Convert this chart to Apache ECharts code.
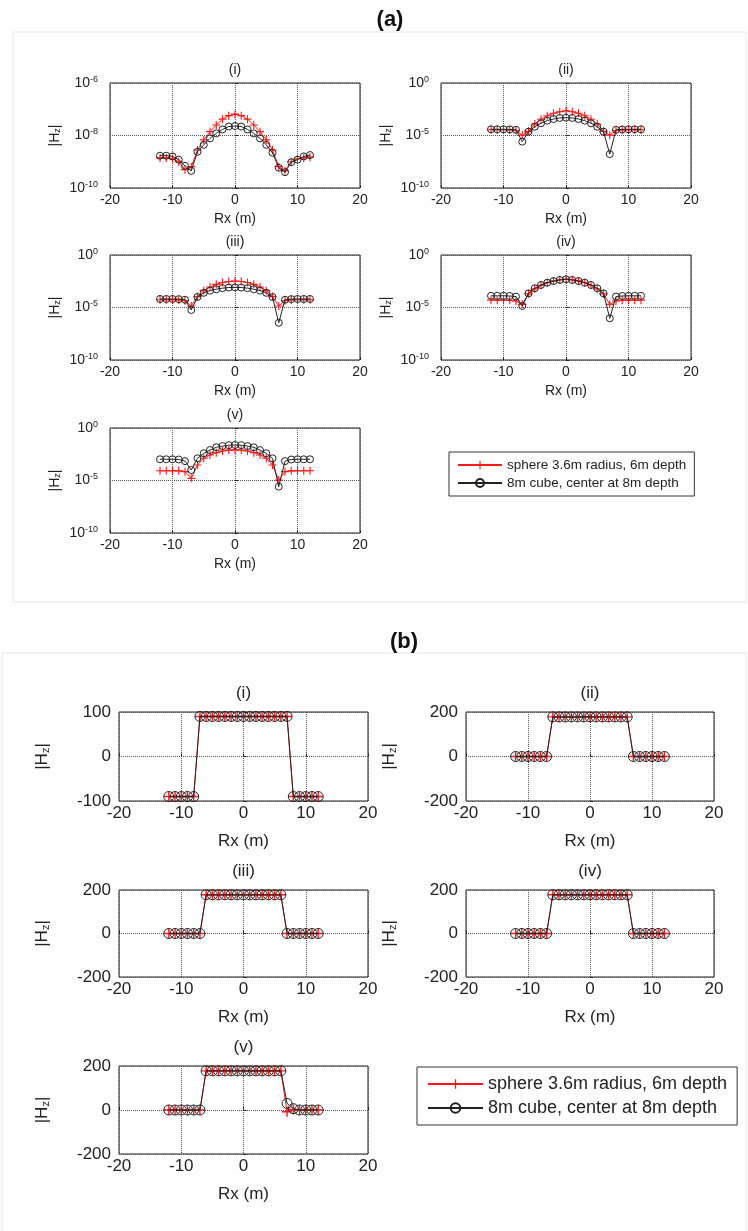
<!DOCTYPE html>
<html>
<head>
<meta charset="utf-8">
<title>Hz profiles</title>
<script src="https://cdn.jsdelivr.net/npm/echarts@6/dist/echarts.min.js"></script>
<style>
html,body{margin:0;padding:0;background:#fff;}
#chart{width:748px;height:1231px;}
</style>
</head>
<body>
<div id="chart"></div>
<script>
var rx = [-12,-11,-10,-9,-8,-7,-6,-5,-4,-3,-2,-1,0,1,2,3,4,5,6,7,8,9,10,11,12];

var sphereName = 'sphere 3.6m radius, 6m depth';
var cubeName = '8m cube, center at 8m depth';

// (a) amplitude, log axis
var sphereA1 = [1.4e-9,1.4e-9,1.3e-9,1.0e-9,5e-10,6.5e-10,2.8e-9,6.8e-9,1.4e-8,2.5e-8,4.2e-8,5.7e-8,6.5e-8,5.7e-8,4.2e-8,2.5e-8,1.4e-8,6.8e-9,2.8e-9,6.5e-10,4.5e-10,1.0e-9,1.3e-9,1.4e-9,1.5e-9];
var cubeA1 = [1.7e-9,1.7e-9,1.6e-9,1.2e-9,7e-10,4.5e-10,2.4e-9,4.4e-9,7.8e-9,1.2e-8,1.7e-8,2.2e-8,2.3e-8,2.2e-8,1.7e-8,1.2e-8,7.8e-9,4.4e-9,2.2e-9,5.9e-10,4e-10,9.6e-10,1.2e-9,1.6e-9,1.8e-9];
var sphereA2 = [3.5e-5,3.5e-5,3.5e-5,3.4e-5,3.0e-5,1.1e-5,2.5e-5,1.25e-4,3.5e-4,7.7e-4,1.3e-3,1.85e-3,2.3e-3,1.85e-3,1.3e-3,7.7e-4,3.5e-4,1.25e-4,2.5e-5,1.1e-5,3.0e-5,3.4e-5,3.5e-5,3.5e-5,3.5e-5];
var cubeA2 = [3.9e-5,3.9e-5,3.9e-5,3.8e-5,3.5e-5,2.6e-6,2.3e-5,6.9e-5,1.45e-4,2.6e-4,3.7e-4,4.7e-4,5.0e-4,4.7e-4,3.7e-4,2.6e-4,1.45e-4,6.9e-5,2.3e-5,1.7e-7,3.5e-5,3.8e-5,3.9e-5,3.9e-5,3.9e-5];
var sphereA3 = [5.5e-5,5.5e-5,5.5e-5,5.3e-5,4.5e-5,1.4e-5,1.1e-4,4e-4,9e-4,1.6e-3,2.4e-3,3e-3,3.3e-3,3e-3,2.4e-3,1.6e-3,9e-4,4e-4,1.1e-4,1.4e-5,4.5e-5,5.3e-5,5.5e-5,5.5e-5,5.5e-5];
var cubeA3 = [6.5e-5,6.5e-5,6.5e-5,6.3e-5,5.5e-5,5.8e-6,1e-4,2.5e-4,4e-4,5.5e-4,7e-4,8e-4,8.3e-4,8e-4,7e-4,5.5e-4,4e-4,2.5e-4,1e-4,3.5e-7,5.5e-5,6.3e-5,6.5e-5,6.5e-5,6.5e-5];
var sphereA4 = [5e-5,5e-5,5e-5,4.8e-5,4.2e-5,2e-5,2e-4,6e-4,1.3e-3,2.3e-3,3.4e-3,4.4e-3,5e-3,4.4e-3,3.4e-3,2.3e-3,1.3e-3,6e-4,2e-4,2e-5,4.2e-5,4.8e-5,5e-5,5e-5,5e-5];
var cubeA4 = [1.3e-4,1.3e-4,1.3e-4,1.25e-4,1.1e-4,1.4e-5,2.2e-4,6.8e-4,1.4e-3,2.3e-3,3.3e-3,4.2e-3,4.9e-3,4.2e-3,3.3e-3,2.3e-3,1.4e-3,6.8e-4,2.2e-4,9.3e-7,1.1e-4,1.25e-4,1.3e-4,1.3e-4,1.3e-4];
var sphereA5 = [8.5e-5,8.5e-5,8.5e-5,8.3e-5,7e-5,1.6e-5,3e-4,1.3e-3,2.7e-3,4.5e-3,6.5e-3,7.9e-3,8.2e-3,7.9e-3,6.5e-3,4.5e-3,2.7e-3,1.3e-3,3e-4,1.1e-5,7e-5,8.3e-5,8.5e-5,8.5e-5,8.5e-5];
var cubeA5 = [1.05e-3,1.05e-3,1.05e-3,1.0e-3,7e-4,1e-4,1.3e-3,3.9e-3,7.9e-3,1.45e-2,1.9e-2,2.3e-2,2.4e-2,2.3e-2,1.9e-2,1.45e-2,7.9e-3,3.9e-3,1.3e-3,2.6e-6,7e-4,1.0e-3,1.05e-3,1.05e-3,1.05e-3];

// (b) phase, linear axis
var sphereB1 = [-90,-90,-90,-90,-90,90,90,90,90,90,90,90,90,90,90,90,90,90,90,90,-90,-90,-90,-90,-90];
var cubeB1 = [-90,-90,-90,-90,-90,90,90,90,90,90,90,90,90,90,90,90,90,90,90,90,-90,-90,-90,-90,-90];
var sphereB2 = [0,0,0,0,0,0,178,178,178,178,178,178,178,178,178,178,178,178,178,0,0,0,0,0,0];
var cubeB2 = [0,0,0,0,0,0,178,178,178,178,178,178,178,178,178,178,178,178,178,0,0,0,0,0,0];
var sphereB3 = [0,0,0,0,0,0,178,178,178,178,178,178,178,178,178,178,178,178,178,0,0,0,0,0,0];
var cubeB3 = [0,0,0,0,0,0,178,178,178,178,178,178,178,178,178,178,178,178,178,0,0,0,0,0,0];
var sphereB4 = [0,0,0,0,0,0,178,178,178,178,178,178,178,178,178,178,178,178,178,0,0,0,0,0,0];
var cubeB4 = [0,0,0,0,0,0,178,178,178,178,178,178,178,178,178,178,178,178,178,0,0,0,0,0,0];
var sphereB5 = [0,0,0,0,0,0,178,178,178,178,178,178,178,178,178,178,178,178,178,-8,2,0,0,0,0];
var cubeB5 = [0,0,0,0,0,0,178,178,178,178,178,178,178,178,178,178,178,178,178,30,6,0,0,0,0];

var xTicks = {min:-20, max:20, step:10};

var FONT = 'Liberation Sans, Arial, sans-serif';
var INK = '#222';
var PLUS = 'path://M0,4.3L10,4.3L10,5.7L0,5.7Z M4.3,0L5.7,0L5.7,10L4.3,10Z';

var panels = [
    {part:'a', title:'(i)',   sphere:sphereA1, cube:cubeA1, left:110, top:83,  width:250, height:105, yMax:1e-6, yStep:2},
    {part:'a', title:'(ii)',  sphere:sphereA2, cube:cubeA2, left:441, top:83,  width:250, height:105, yMax:1,    yStep:5},
    {part:'a', title:'(iii)', sphere:sphereA3, cube:cubeA3, left:110, top:255, width:250, height:105, yMax:1,    yStep:5},
    {part:'a', title:'(iv)',  sphere:sphereA4, cube:cubeA4, left:441, top:255, width:250, height:105, yMax:1,    yStep:5},
    {part:'a', title:'(v)',   sphere:sphereA5, cube:cubeA5, left:110, top:428, width:250, height:105, yMax:1,    yStep:5},
    {part:'b', title:'(i)',   sphere:sphereB1, cube:cubeB1, left:119, top:712, width:249, height:89, yMax:100, yStep:100},
    {part:'b', title:'(ii)',  sphere:sphereB2, cube:cubeB2, left:466, top:712, width:248, height:89, yMax:200, yStep:200},
    {part:'b', title:'(iii)', sphere:sphereB3, cube:cubeB3, left:119, top:890, width:249, height:87, yMax:200, yStep:200},
    {part:'b', title:'(iv)',  sphere:sphereB4, cube:cubeB4, left:466, top:890, width:248, height:87, yMax:200, yStep:200},
    {part:'b', title:'(v)',   sphere:sphereB5, cube:cubeB5, left:119, top:1066, width:249, height:88, yMax:200, yStep:200}
];

function pairs(vals){
    var out = [];
    for(var i=0; i<rx.length; i++){ out.push([rx[i], vals[i]]); }
    return out;
}

function powLabel(v){
    var e = Math.round(Math.log(v)/Math.LN10);
    return '{b|10}{s|' + e + '}';
}

var grids = [], xAxes = [], yAxes = [], series = [], graphics = [];

// light frames round the two figure parts
graphics.push({type:'rect', shape:{x:13, y:32, width:733, height:570}, style:{fill:'none', stroke:'#e6e6e6', lineWidth:1}, silent:true});
graphics.push({type:'rect', shape:{x:2, y:653, width:744, height:600}, style:{fill:'none', stroke:'#e6e6e6', lineWidth:1}, silent:true});
graphics.push({type:'text', x:390, y:20, style:{text:'(a)', font:'bold 22px ' + FONT, fill:'#111', align:'center', verticalAlign:'middle'}});
graphics.push({type:'text', x:404, y:642, style:{text:'(b)', font:'bold 22px ' + FONT, fill:'#111', align:'center', verticalAlign:'middle'}});

panels.forEach(function(p, i){
    var isA = p.part == 'a';
    var fs = isA ? 14 : 17;
    var sym = isA ? 7 : 10;

    grids.push({left:p.left, top:p.top, width:p.width, height:p.height, show:true, borderColor:INK, borderWidth:1, backgroundColor:'transparent'});

    xAxes.push({
        gridIndex:i, type:'value', min:xTicks.min, max:xTicks.max, interval:xTicks.step,
        name:'Rx (m)', nameLocation:'middle', nameGap: isA ? 24 : 32,
        nameTextStyle:{fontSize:fs, color:INK, fontFamily:FONT},
        axisLine:{show:false},
        axisTick:{show:true, inside:true, length:3, lineStyle:{color:INK}},
        axisLabel:{fontSize:fs, color:INK, fontFamily:FONT, margin: isA ? 5 : 4},
        splitLine:{show:true, lineStyle:{type:'dotted', color:'#555', width:1}}
    });

    var yAxis = {
        gridIndex:i,
        name:'|H{s|z}|', nameLocation:'middle', nameGap: isA ? 48 : 68,
        nameTextStyle:{fontSize:fs, color:INK, fontFamily:FONT, rich:{s:{fontSize: isA ? 9 : 11, color:INK, fontFamily:FONT, verticalAlign:'bottom', lineHeight: isA ? 9 : 11}}},
        axisLine:{show:false},
        axisTick:{show:true, inside:true, length:3, lineStyle:{color:INK}},
        splitLine:{show:true, lineStyle:{type:'dotted', color:'#555', width:1}}
    };
    if(isA){
        yAxis.type = 'log';
        yAxis.logBase = 10;
        yAxis.min = 1e-10;
        yAxis.max = p.yMax;
        yAxis.interval = p.yStep;
        yAxis.minorTick = {show:false};
        yAxis.axisLabel = {
            margin:12, formatter:powLabel,
            rich:{
                b:{fontSize:14, color:INK, fontFamily:FONT, lineHeight:16},
                s:{fontSize:9, color:INK, fontFamily:FONT, verticalAlign:'top', lineHeight:9}
            }
        };
    }else{
        yAxis.type = 'value';
        yAxis.min = -p.yMax;
        yAxis.max = p.yMax;
        yAxis.interval = p.yStep;
        yAxis.axisLabel = {fontSize:fs, color:INK, fontFamily:FONT, margin:8};
    }
    yAxes.push(yAxis);

    series.push({
        type:'line', name:sphereName, xAxisIndex:i, yAxisIndex:i, data:pairs(p.sphere),
        symbol:PLUS, symbolSize: isA ? 8 : 10, showAllSymbol:true,
        itemStyle:{color:'#ff1a1a'}, lineStyle:{color:'#ff1a1a', width:1}, z:2
    });
    series.push({
        type:'line', name:cubeName, xAxisIndex:i, yAxisIndex:i, data:pairs(p.cube),
        symbol:'circle', symbolSize:sym, showAllSymbol:true,
        itemStyle:{color:'none', borderColor:INK, borderWidth:1}, lineStyle:{color:INK, width:1}, z:3
    });

    graphics.push({type:'text', x:p.left + p.width/2, y:p.top - (isA ? 13 : 19),
        style:{text:p.title, font:fs + 'px ' + FONT, fill:INK, align:'center', verticalAlign:'middle'}});
});

var dom = document.getElementById('chart');
var myChart = echarts.init(dom, null, {renderer:'canvas'});

var option = {
    animation:false,
    backgroundColor:'#fff',
    legend:[
        {data:[sphereName, cubeName], orient:'vertical', left:449, top:452, itemWidth:44, itemHeight:10, itemGap:4,
         padding:[6,8], borderColor:'#333', borderWidth:1, selectedMode:false,
         textStyle:{fontSize:13.5, color:INK, fontFamily:FONT}},
        {data:[sphereName, cubeName], orient:'vertical', left:417, top:1067, itemWidth:55, itemHeight:12, itemGap:6,
         padding:[8,10], borderColor:'#333', borderWidth:1, selectedMode:false,
         textStyle:{fontSize:18, color:INK, fontFamily:FONT}}
    ],
    grid:grids,
    xAxis:xAxes,
    yAxis:yAxes,
    series:series,
    graphic:graphics
};
if (option && typeof option === "object") {
    myChart.setOption(option, true);
}
</script>
</body>
</html>
